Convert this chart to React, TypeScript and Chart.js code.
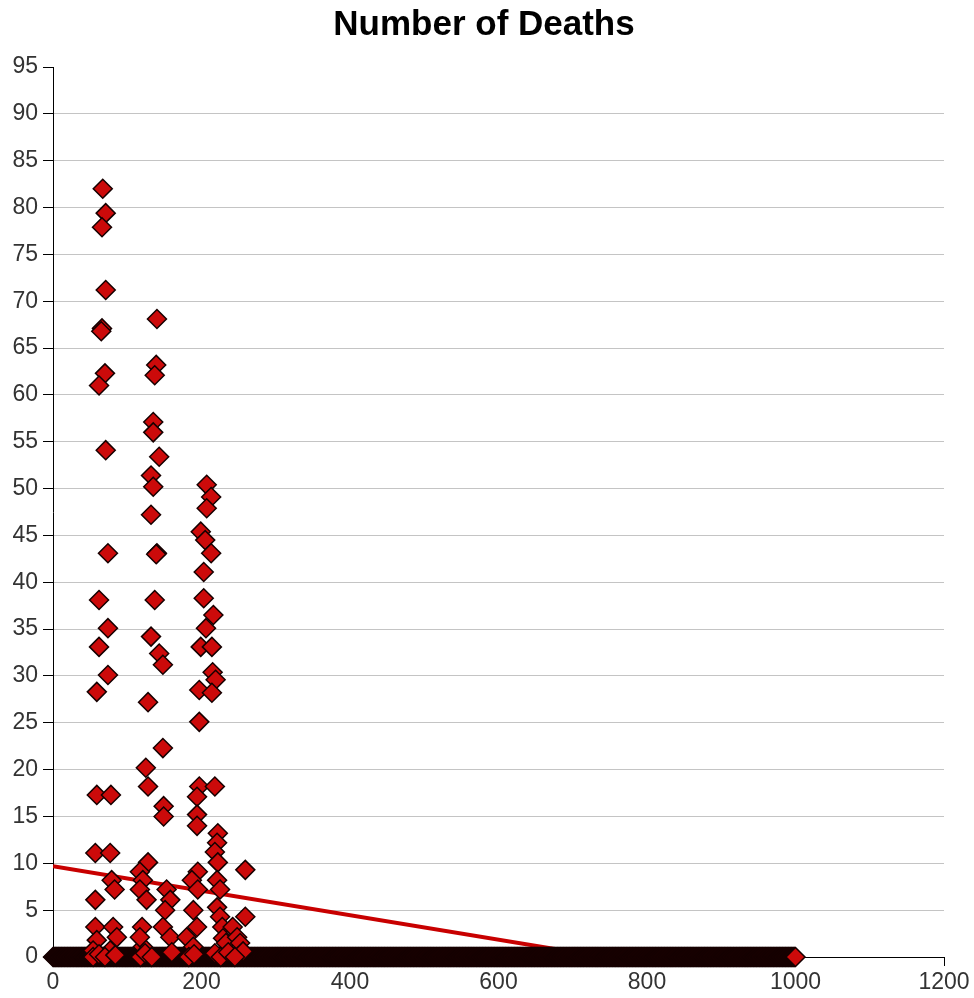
import React, { useEffect, useRef } from 'react';
import { Chart, registerables } from 'chart.js';

Chart.register(...registerables);

const chartTitle = 'Number of Deaths';

// Non-zero observations (x value, number of deaths)
const clusterX = [
  67, 71, 66, 71, 66, 65, 70, 62, 71, 74, 62, 74, 62, 74, 59, 59, 78, 57, 77, 79, 83, 57, 57, 81, 59, 86, 54, 77,
  140, 139, 137, 135, 135, 143, 132, 135, 132, 140, 139, 137, 132, 143, 148, 128, 148, 125, 128, 149, 149, 128, 117, 121, 117, 126, 120, 121, 117,
  153, 158, 151, 148, 158,
  207, 213, 207, 199, 205, 213, 203, 203, 216, 206, 199, 214, 215, 219, 197, 214, 197, 197, 218, 194, 194, 194, 222, 221, 218, 222, 195, 187, 195,
  221, 225, 189, 221, 225, 194, 228, 180, 229, 189, 233,
  242, 248, 252, 259, 259, 256,
  54, 62, 70, 84, 118, 124, 133, 160, 183, 190, 218, 226, 236, 245,
];
const clusterY = [
  82, 79.4, 77.9, 71.2, 67.1, 66.8, 62.3, 61, 54.1, 43.1, 38.1, 35.1, 33.1, 30.1, 28.3, 17.3, 17.3, 11.1, 11.1, 8.2, 7.2, 6.1, 3.2, 3.2, 1.8, 2.1, 0.7, 0.7,
  68.1, 63.2, 62.1, 57.1, 56, 53.4, 51.4, 50.2, 47.2, 43.1, 43, 38.1, 34.2, 32.4, 31.2, 27.2, 22.3, 20.2, 18.2, 16.1, 15, 10.1, 9.1, 8.2, 7.2, 6.1, 3.2, 1.1, 2.1,
  7.2, 6.1, 5, 3.2, 2.1,
  50.4, 49.1, 47.9, 45.4, 44.5, 43.1, 41.1, 38.3, 36.5, 35.1, 33.1, 33.1, 30.4, 29.6, 28.5, 28.2, 25.1, 18.2, 18.2, 17.1, 15.2, 14, 13.2, 12.2, 11.2, 10.1, 9.1, 8.2, 7.2,
  8.2, 7.2, 5, 5.3, 4.3, 3.2, 3.2, 2.1, 2, 1.1, 1.5,
  3.2, 2.1, 1.5, 9.3, 4.3, 0.6,
  0, 0.3, 0, 0.2, 0, 0.4, 0, 0.5, 0, 0.3, 0.4, 0, 0.5, 0,
];

// Observations with zero deaths cover every x from 0 to 1000
const zeroRowFrom = 0;
const zeroRowTo = 1000;
const zeroRowValue = 0;

// Linear trend line end points
const trendX = [0, 1200];
const trendY = [9.7, -6.0];

const xMin = 0;
const xMax = 1200;
const xStep = 200;
const yMin = 0;
const yMax = 95;
const yStep = 5;

const FONT = 'Liberation Sans, Arial, sans-serif';

const titleShift = {
  id: 'titleShift',
  afterLayout(chart: any) {
    const tb = chart.titleBlock;
    if (tb) tb.left = 24;
  },
};

export default function App() {
  const canvasRef = useRef<HTMLCanvasElement | null>(null);

  useEffect(() => {
    const canvas = canvasRef.current;
    if (!canvas) return;

    const clusterPoints = clusterX.map((x, i) => ({ x, y: clusterY[i] }));
    const zeroPoints: { x: number; y: number }[] = [];
    for (let x = zeroRowFrom; x <= zeroRowTo; x++) zeroPoints.push({ x, y: zeroRowValue });
    const trendPoints = trendX.map((x, i) => ({ x, y: trendY[i] }));

    const pointStyle = {
      pointStyle: 'rectRot' as const,
      pointRadius: 9.5,
      pointHoverRadius: 9.5,
      pointBackgroundColor: '#cc0a0a',
      pointBorderColor: '#160000',
      pointBorderWidth: 1.5,
      showLine: false,
      clip: false as const,
    };

    const chart = new Chart(canvas, {
      type: 'scatter',
      data: {
        datasets: [
          { label: 'deaths', data: clusterPoints, order: 1, ...pointStyle },
          { label: 'zero', data: zeroPoints, order: 2, ...pointStyle },
          {
            type: 'line',
            label: 'trend',
            order: 3,
            data: trendPoints,
            borderColor: '#c80000',
            borderWidth: 4,
            pointRadius: 0,
            showLine: true,
            fill: false,
            tension: 0,
          } as any,
        ],
      },
      options: {
        responsive: false,
        animation: false,
        events: [],
        layout: { padding: { left: 0, right: 30, top: 0, bottom: 0 } },
        plugins: {
          legend: { display: false },
          tooltip: { enabled: false },
          title: {
            display: true,
            text: chartTitle,
            color: '#000',
            font: { family: FONT, size: 35, weight: 'bold' },
            padding: { top: 4.5, bottom: 20.5 },
          },
        },
        scales: {
          x: {
            type: 'linear',
            min: xMin,
            max: xMax,
            afterFit: (s: any) => {
              s.height = 41;
            },
            ticks: {
              stepSize: xStep,
              autoSkip: false,
              maxRotation: 0,
              padding: 3,
              color: '#333',
              font: { family: FONT, size: 23 },
              callback: (v: any) => String(v),
            },
            grid: {
              drawOnChartArea: false,
              drawTicks: true,
              tickLength: 9,
              tickColor: '#000',
              tickWidth: 1,
            },
            border: { display: true, color: '#000', width: 1 },
          },
          y: {
            type: 'linear',
            min: yMin,
            max: yMax,
            afterFit: (s: any) => {
              s.width = 53;
            },
            ticks: {
              stepSize: yStep,
              autoSkip: false,
              padding: 5,
              color: '#333',
              font: { family: FONT, size: 23 },
              callback: (v: any) => String(v),
            },
            grid: {
              color: (ctx: any) =>
                ctx.tick && (ctx.tick.value === yMin || ctx.tick.value === yMax) ? 'rgba(0,0,0,0)' : '#c4c4c4',
              lineWidth: 1,
              drawTicks: true,
              tickLength: 10,
              tickColor: '#000',
              tickWidth: 1,
            },
            border: { display: true, color: '#000', width: 1 },
          },
        },
      },
      plugins: [titleShift],
    });

    return () => chart.destroy();
  }, []);

  return (
    <div style={{ position: 'fixed', left: 0, top: 0, width: 974, height: 998, background: '#fff' }}>
      <canvas ref={canvasRef} width={974} height={998} style={{ display: 'block', width: 974, height: 998 }} />
    </div>
  );
}
